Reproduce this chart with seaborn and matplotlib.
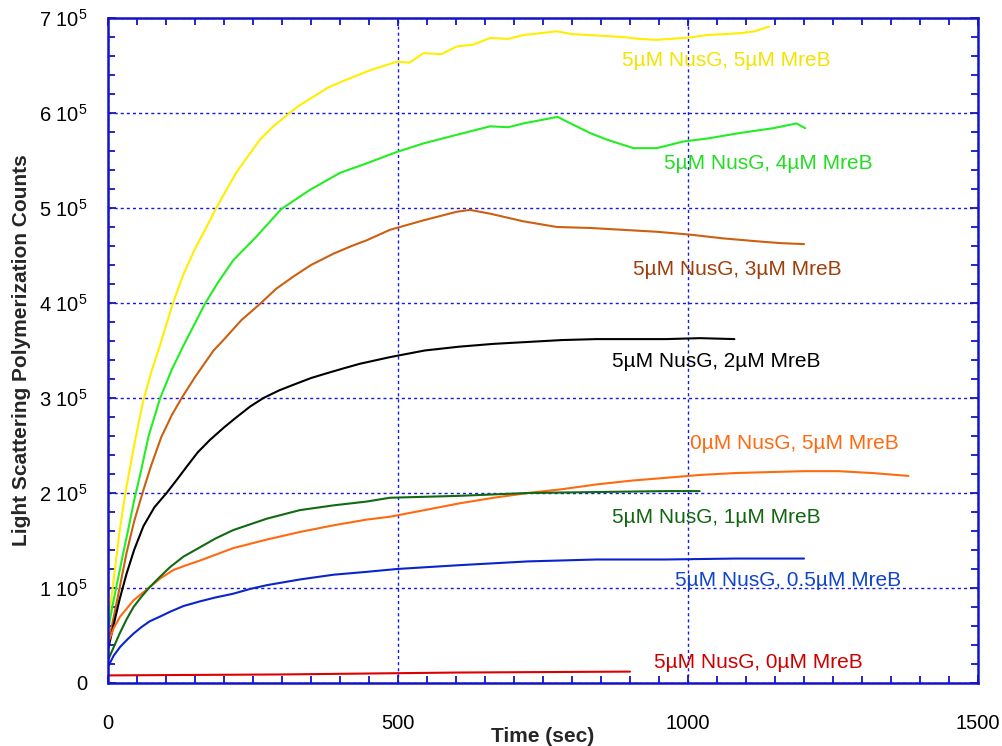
import numpy as np
import pandas as pd
import matplotlib
matplotlib.use("Agg")
import matplotlib.pyplot as plt
from matplotlib.ticker import MultipleLocator
import seaborn as sns

# ---- data (time in sec, counts in units of 1e5) ----
yellow_t = [0, 5, 10, 20, 30, 45, 60, 75, 90, 112, 130, 150, 170, 185, 205, 222, 242, 262, 285, 311, 330, 354, 380, 411,
            452, 498, 520, 544, 575, 601, 630, 659, 690, 716, 745, 774, 800, 831, 860, 888, 915, 946, 970, 992,
            1010, 1032, 1060, 1090, 1115, 1140]
yellow_y = [0.6, 0.85, 1.1, 1.6, 2.0, 2.5, 2.95, 3.28, 3.56, 4.0, 4.3, 4.57, 4.8, 4.98, 5.2, 5.38, 5.55, 5.72, 5.86, 5.99, 6.08, 6.17, 6.27, 6.35,
            6.45, 6.54, 6.53, 6.63, 6.62, 6.70, 6.72, 6.79, 6.78, 6.82, 6.84, 6.86, 6.83, 6.82, 6.81, 6.80, 6.78, 6.77, 6.78, 6.79,
            6.80, 6.82, 6.83, 6.84, 6.86, 6.91]

green_t = [0, 5, 10, 15, 25, 35, 45, 55, 70, 90, 110, 130, 167, 190, 216, 256, 299, 348, 400, 446, 498,
           544, 601, 659, 690, 716, 759, 775, 791, 831, 860, 906, 946, 992, 1032, 1090, 1147, 1187, 1202]
green_y = [0.55, 0.72, 0.88, 1.03, 1.33, 1.62, 1.92, 2.18, 2.6, 3.0, 3.3, 3.55, 3.99, 4.22, 4.45, 4.70, 4.99, 5.19, 5.37, 5.47, 5.59,
           5.68, 5.77, 5.86, 5.85, 5.89, 5.94, 5.96, 5.91, 5.79, 5.72, 5.63, 5.63, 5.70, 5.73, 5.79, 5.84, 5.89, 5.84]

brown_t = [0, 5, 10, 20, 32, 45, 61, 75, 92, 110, 127, 150, 182, 199, 230, 262, 290, 320, 350, 389, 420, 446,
           486, 544, 601, 624, 659, 716, 774, 831, 888, 946, 1003, 1061, 1118, 1160, 1200]
brown_y = [0.4, 0.55, 0.7, 1.0, 1.37, 1.7, 2.03, 2.3, 2.59, 2.82, 3.0, 3.22, 3.5, 3.61, 3.82, 3.99, 4.15, 4.28, 4.4, 4.52, 4.6, 4.66,
           4.77, 4.87, 4.96, 4.98, 4.94, 4.86, 4.80, 4.79, 4.77, 4.75, 4.72, 4.68, 4.65, 4.63, 4.62]

black_t = [0, 10, 20, 32, 45, 61, 80, 101, 120, 136, 155, 176, 200, 222, 245, 268, 295, 320, 350, 377, 405, 434, 486, 546, 605,
           665, 724, 783, 842, 902, 962, 1021, 1080]
black_y = [0.35, 0.62, 0.88, 1.15, 1.4, 1.65, 1.85, 2.0, 2.15, 2.28, 2.43, 2.56, 2.69, 2.80, 2.91, 3.0, 3.08, 3.14, 3.21, 3.26, 3.31, 3.36,
           3.43, 3.50, 3.54, 3.57, 3.59, 3.61, 3.62, 3.62, 3.62, 3.63, 3.62]

orange_t = [0, 10, 21, 44, 72, 90, 113, 135, 159, 216, 274, 331, 389, 446, 486, 546, 605, 665, 724, 783, 842, 902, 962,
            1021, 1081, 1140, 1200, 1259, 1318, 1380]
orange_y = [0.42, 0.58, 0.70, 0.87, 1.01, 1.1, 1.19, 1.24, 1.29, 1.42, 1.51, 1.59, 1.66, 1.72, 1.75, 1.82, 1.89, 1.95, 2.0, 2.04, 2.09, 2.13, 2.16,
            2.19, 2.21, 2.22, 2.23, 2.23, 2.21, 2.18]

dkgreen_t = [0, 10, 20, 32, 44, 58, 72, 90, 107, 130, 159, 185, 216, 245, 274, 331, 389, 446, 486, 605, 724, 842, 962, 1020]
dkgreen_y = [0.24, 0.38, 0.52, 0.67, 0.80, 0.91, 1.01, 1.12, 1.22, 1.33, 1.43, 1.52, 1.61, 1.67, 1.73, 1.82, 1.87, 1.91, 1.95, 1.97, 2.0,
             2.01, 2.02, 2.02]

blue_t = [0, 5, 10, 21, 32, 44, 58, 72, 90, 107, 130, 159, 185, 216, 245, 274, 331, 389, 446, 498, 605, 724, 842, 962, 1081, 1200]
blue_y = [0.17, 0.23, 0.29, 0.38, 0.45, 0.52, 0.59, 0.65, 0.70, 0.75, 0.81, 0.86, 0.90, 0.94, 0.99, 1.03, 1.09, 1.14, 1.17, 1.20,
          1.24, 1.28, 1.30, 1.30, 1.31, 1.31]

red_t = [0, 150, 300, 450, 600, 750, 900]
red_y = [0.08, 0.085, 0.09, 0.10, 0.11, 0.115, 0.12]

series_names = ["5µM NusG, 5µM MreB", "5µM NusG, 4µM MreB", "5µM NusG, 3µM MreB", "5µM NusG, 2µM MreB",
                "0µM NusG, 5µM MreB", "5µM NusG, 1µM MreB", "5µM NusG, 0.5µM MreB", "5µM NusG, 0µM MreB"]
series_data = [(yellow_t, yellow_y), (green_t, green_y), (brown_t, brown_y), (black_t, black_y),
               (orange_t, orange_y), (dkgreen_t, dkgreen_y), (blue_t, blue_y), (red_t, red_y)]

# label anchor positions (time, counts/1e5)
label_x = [886, 959, 905, 869, 1003, 869, 978, 941]
label_y = [6.55, 5.47, 4.35, 3.38, 2.52, 1.74, 1.08, 0.22]

x_ticks = [0, 500, 1000, 1500]
y_ticks = [0, 1, 2, 3, 4, 5, 6, 7]
y_tick_labels = ["0"] + [r"%d $10^5$" % v for v in y_ticks[1:]]

line_colors = ["#FFEE00", "#22EE22", "#CC6010", "#000000", "#FF6A10", "#116A11", "#0A24CC", "#DD0000"]
text_colors = ["#F2E400", "#22DD22", "#A03E0A", "#000000", "#FF6A10", "#116611", "#1144CC", "#CC0000"]

rows = []
for name, (t, y) in zip(series_names, series_data):
    for tt, yy in zip(t, y):
        rows.append({"Time": tt, "Counts": yy * 1e5, "Series": name})
df = pd.DataFrame(rows)

sns.set_style("white")
plt.rcParams["font.family"] = ["Liberation Sans", "DejaVu Sans"]
plt.rcParams["mathtext.fontset"] = "custom"
plt.rcParams["mathtext.rm"] = "Liberation Sans"
plt.rcParams["mathtext.default"] = "regular"

fig = plt.figure(figsize=(10.03, 7.46), dpi=100)
ax = fig.add_axes([108 / 1003, 1 - 683 / 746, 870 / 1003, 665 / 746])

frame_blue = "#1414C8"
ax.grid(True, which="major", color="#1818E0", linestyle=(0, (2.2, 2.2)), linewidth=1.0)
ax.set_axisbelow(True)

sns.lineplot(data=df, x="Time", y="Counts", hue="Series", hue_order=series_names,
             palette=dict(zip(series_names, line_colors)), estimator=None, sort=False,
             linewidth=1.5, legend=False, ax=ax)

for name, lx, ly, c in zip(series_names, label_x, label_y, text_colors):
    ax.text(lx, ly * 1e5, name, color=c, fontsize=15, ha="left", va="center")

ax.set_xlim(0, 1500)
ax.set_ylim(0, 7e5)
ax.set_xticks(x_ticks)
ax.set_xticklabels([str(v) for v in x_ticks])
ax.set_yticks([v * 1e5 for v in y_ticks])
ax.set_yticklabels(y_tick_labels)
ax.xaxis.set_minor_locator(MultipleLocator(50))
ax.yaxis.set_minor_locator(MultipleLocator(2e4))

ax.tick_params(which="both", direction="in", top=True, right=True, bottom=True, left=True,
               color=frame_blue, width=1.3, labelsize=14.5, labelcolor="black")
ax.tick_params(which="major", length=6)
ax.tick_params(which="minor", length=5)
ax.tick_params(axis="x", which="major", pad=22)
ax.tick_params(axis="y", which="major", pad=15)

for sp in ax.spines.values():
    sp.set_color(frame_blue)
    sp.set_linewidth(1.8)
    sp.set_visible(True)

ax.set_xlabel("Time (sec)", fontsize=15, fontweight="bold")
ax.set_ylabel("Light Scattering Polymerization Counts", fontsize=15, fontweight="bold")
ax.xaxis.set_label_coords(0.5, -0.081)
ax.xaxis.label.set_va("center")
ax.yaxis.set_label_coords(-0.099, 0.5)
ax.yaxis.label.set_va("center")

fig.savefig("out.png", dpi=100)
